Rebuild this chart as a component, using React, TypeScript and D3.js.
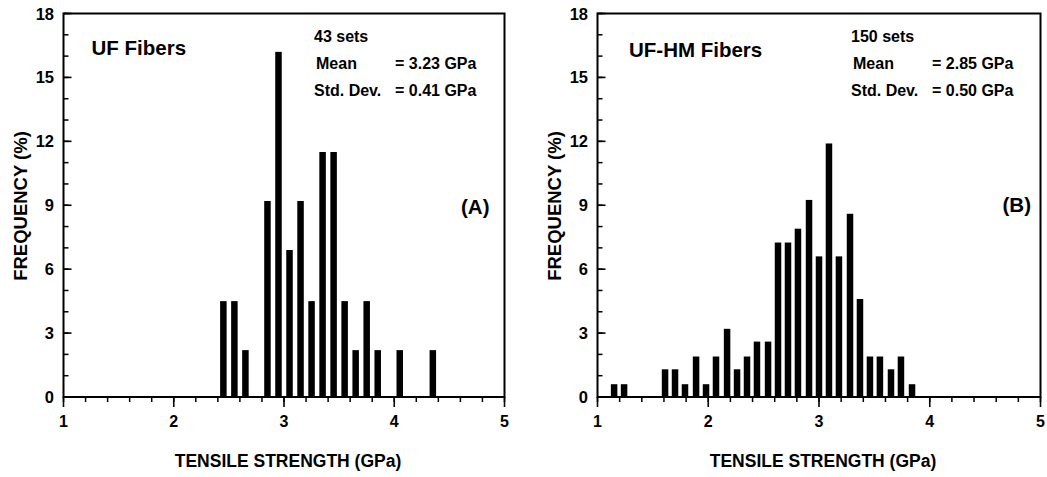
import * as d3 from 'd3';

// panel A: UF fibers (bin centre in GPa, frequency in %)
const ufBins = [2.45, 2.55, 2.65, 2.85, 2.95, 3.05, 3.15, 3.25, 3.35, 3.45, 3.55, 3.65, 3.75, 3.85, 4.05, 4.35];
const ufFreq = [4.5, 4.5, 2.2, 9.2, 16.2, 6.9, 9.2, 4.5, 11.5, 11.5, 4.5, 2.2, 4.5, 2.2, 2.2, 2.2];

// panel B: UF-HM fibers
const hmBins = [
  1.15, 1.24, 1.61, 1.7, 1.79, 1.89, 1.98, 2.07, 2.17, 2.26, 2.35, 2.44, 2.54, 2.63, 2.72, 2.81, 2.91, 3.0, 3.09,
  3.18, 3.28, 3.37, 3.46, 3.55, 3.65, 3.74, 3.84,
];
const hmFreq = [
  0.6, 0.6, 1.3, 1.3, 0.6, 1.9, 0.6, 1.9, 3.2, 1.3, 1.9, 2.6, 2.6, 7.25, 7.25, 7.9, 9.25, 6.6, 11.9, 6.6, 8.6, 4.6,
  1.9, 1.9, 1.3, 1.9, 0.6,
];

const xTicks = [1, 2, 3, 4, 5];
const yTicks = [0, 3, 6, 9, 12, 15, 18];

const FONT = '"Liberation Sans", Arial, Helvetica, sans-serif';

const Panel = ({ bins, freq, left, right, title, titleX, titleY, sets, mean, sd, statX, tag, tagX, tagY }: any) => {
  const top = 13.5;
  const bottom = 397;
  const x = d3.scaleLinear([1, 5], [left, right]);
  const y = d3.scaleLinear([0, 18], [bottom, top]);
  const minorX = d3.range(1, 5.001, 0.2);
  const minorY = d3.range(0, 18.001, 1);
  const barW = 6.5;

  return (
    <g fontFamily={FONT} fontWeight="bold" fill="#000">
      {bins.map((b: number, i: number) => (
        <rect key={i} x={x(b) - barW / 2} y={y(freq[i])} width={barW} height={y(0) - y(freq[i])} fill="#000" />
      ))}
      <rect x={left} y={top} width={right - left} height={bottom - top} fill="none" stroke="#000" strokeWidth={2} />
      {minorX.map((t, i) => (
        <line key={'mx' + i} x1={x(t)} x2={x(t)} y1={bottom} y2={bottom + 5} stroke="#000" strokeWidth={1.5} />
      ))}
      {xTicks.map((t) => (
        <g key={'x' + t}>
          <line x1={x(t)} x2={x(t)} y1={bottom} y2={bottom + 10} stroke="#000" strokeWidth={1.6} />
          <text x={x(t)} y={426.5} textAnchor="middle" fontSize={16}>
            {t}
          </text>
        </g>
      ))}
      {minorY.map((t, i) => (
        <line key={'my' + i} x1={left} x2={left + 5} y1={y(t)} y2={y(t)} stroke="#000" strokeWidth={1.5} />
      ))}
      {yTicks.map((t) => (
        <g key={'y' + t}>
          <line x1={left} x2={left + 8} y1={y(t)} y2={y(t)} stroke="#000" strokeWidth={1.6} />
          <text x={left - 9.5} y={y(t) + 6} textAnchor="end" fontSize={16.5}>
            {t}
          </text>
        </g>
      ))}
      <text x={(left + right) / 2 + 4} y={466.5} textAnchor="middle" fontSize={17.5}>
        TENSILE STRENGTH (GPa)
      </text>
      <text
        transform={`translate(${left - 43.5},206) rotate(-90)`}
        textAnchor="middle"
        dominantBaseline="central"
        fontSize={18.5}
      >
        FREQUENCY (%)
      </text>
      <text x={titleX} y={titleY} fontSize={20.5}>
        {title}
      </text>
      <text x={statX} y={42} fontSize={16}>
        {sets}
      </text>
      <text x={statX + 2} y={69} fontSize={16}>
        Mean
      </text>
      <text x={statX + 81} y={69} fontSize={16}>
        {'=  ' + mean}
      </text>
      <text x={statX} y={95.5} fontSize={16}>
        Std. Dev.
      </text>
      <text x={statX + 81} y={95.5} fontSize={16}>
        {'=  ' + sd}
      </text>
      <text x={tagX} y={tagY} textAnchor="end" fontSize={20.5}>
        {tag}
      </text>
    </g>
  );
};

export default function App() {
  return (
    <svg
      width={1047}
      height={477}
      viewBox="0 0 1047 477"
      style={{ position: 'absolute', left: 0, top: 0, background: '#fff' }}
    >
      <rect width={1047} height={477} fill="#fff" />
      <Panel
        bins={ufBins}
        freq={ufFreq}
        left={63.5}
        right={504.5}
        title="UF Fibers"
        titleX={91.5}
        titleY={54.5}
        sets="43 sets"
        mean="3.23 GPa"
        sd="0.41 GPa"
        statX={314}
        tag="(A)"
        tagX={489.5}
        tagY={214}
      />
      <Panel
        bins={hmBins}
        freq={hmFreq}
        left={597.5}
        right={1040.5}
        title="UF-HM Fibers"
        titleX={629}
        titleY={57}
        sets="150 sets"
        mean="2.85 GPa"
        sd="0.50 GPa"
        statX={851}
        tag="(B)"
        tagX={1031}
        tagY={212}
      />
    </svg>
  );
}
